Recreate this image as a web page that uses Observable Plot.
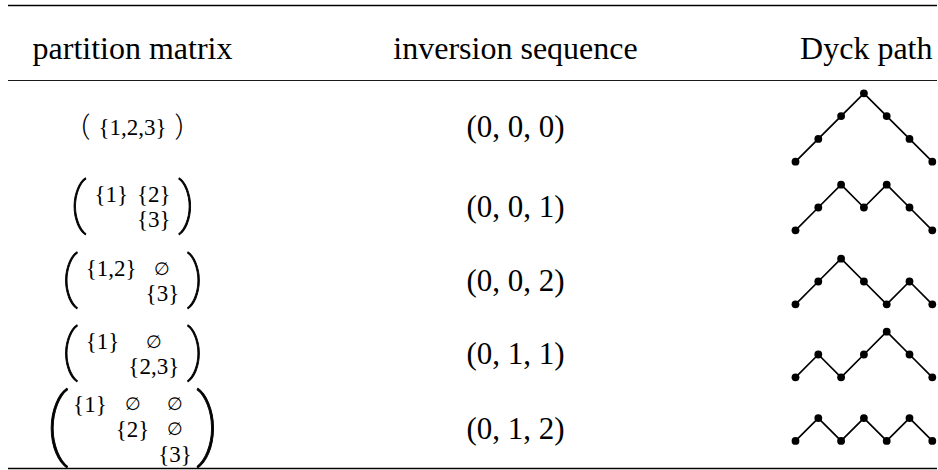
<!DOCTYPE html>
<html><head><meta charset="utf-8">
<script src="https://cdn.jsdelivr.net/npm/d3@7"></script>
<script src="https://cdn.jsdelivr.net/npm/@observablehq/plot@0.6"></script>
<style>body{margin:0;background:#fff}</style>
</head><body><div id="chart"></div>
<script>
// ---- data ----
const headers = ["partition matrix", "inversion sequence", "Dyck path"];
const matrices = [
  [["{1,2,3}"]],
  [["{1}", "{2}"], ["", "{3}"]],
  [["{1,2}", "∅"], ["", "{3}"]],
  [["{1}", "∅"], ["", "{2,3}"]],
  [["{1}", "∅", "∅"], ["", "{2}", "∅"], ["", "", "{3}"]]
];
const inversions = [[0,0,0],[0,0,1],[0,0,2],[0,1,1],[0,1,2]];
const dyckHeights = [
  [0,1,2,3,2,1,0],
  [0,1,2,1,2,1,0],
  [0,1,2,1,0,1,0],
  [0,1,0,1,2,1,0],
  [0,1,0,1,0,1,0]
];

// ---- layout ----
const W = 938, H = 470;
const FONT = "'Liberation Serif', 'DejaVu Serif', serif";
const PAREN_FONT = "Roboto, 'Liberation Sans', sans-serif";
const rowCenters = [127, 207, 281, 354, 429];
const colMatrix = 132, colInv = 515, dyckStart = 795, dyckRight = 932, step = 22.8;
const headerBaseline = 58, headerFS = 32, invFS = 31;
const cellFS = 23, emptyFS = 18, lineGap = 25, colGap = 9;

const ctx = document.createElement("canvas").getContext("2d");
function measure(s, fs) { ctx.font = `${fs}px ${FONT}`; return ctx.measureText(s).width; }

const headerY = headerBaseline - 0.32 * headerFS;
const headerMid = [
  {text: headers[0], x: colMatrix},
  {text: headers[1], x: colInv}
];
const headerEnd = [{text: headers[2], x: dyckRight}];

const cells = [], parens = [];
matrices.forEach((m, r) => {
  const n = m[0].length, nr = m.length;
  const fsOf = s => s === "∅" ? emptyFS : cellFS;
  const widths = d3.range(n).map(j => d3.max(m, row => row[j] ? measure(row[j], fsOf(row[j])) : 0));
  const total = d3.sum(widths) + (n - 1) * colGap;
  const left = colMatrix - total / 2;
  const centers = [];
  let acc = left;
  widths.forEach(w => { centers.push(acc + w / 2); acc += w + colGap; });
  m.forEach((row, i) => row.forEach((s, j) => {
    if (s) cells.push({text: s, x: centers[j], y: rowCenters[r] + (i - (nr - 1) / 2) * lineGap, fs: fsOf(s)});
  }));
  const pfs = [26, 56, 78][nr - 1], pad = nr === 1 ? 13 : 16;
  parens.push({text: "(", x: left - pad, y: rowCenters[r] - 0.06 * pfs, fs: pfs, big: nr > 1});
  parens.push({text: ")", x: left + total + pad, y: rowCenters[r] - 0.06 * pfs, fs: pfs, big: nr > 1});
});

const invData = inversions.map((s, r) => ({text: `(${s.join(", ")})`, x: colInv, y: rowCenters[r]}));

const dyck = dyckHeights.flatMap((hs, r) => {
  const base = rowCenters[r] + d3.max(hs) * step / 2;
  return hs.map((h, i) => ({row: r, x: dyckStart + i * step, y: base - h * step}));
});

const svg = Plot.plot({
  width: W, height: H,
  marginTop: 0, marginRight: 0, marginBottom: 0, marginLeft: 0,
  x: {domain: [0, W], range: [0, W], axis: null},
  y: {domain: [0, H], range: [0, H], axis: null},
  style: {background: "#fff", fontFamily: FONT},
  marks: [
    Plot.ruleY([5, 468], {x1: 8, x2: 937, stroke: "#000", strokeWidth: 1.3}),
    Plot.ruleY([80], {x1: 8, x2: 937, stroke: "#000", strokeWidth: 0.9}),
    Plot.text(headerMid, {x: "x", y: () => headerY, text: "text", textAnchor: "middle", fontSize: headerFS, fontFamily: FONT, fill: "#000", lineAnchor: "middle"}),
    Plot.text(headerEnd, {x: "x", y: () => headerY, text: "text", textAnchor: "end", fontSize: headerFS, fontFamily: FONT, fill: "#000", lineAnchor: "middle"}),
    Plot.text(cells, {x: "x", y: "y", text: "text", fontSize: "fs", fontFamily: FONT, fill: "#000", lineAnchor: "middle"}),
    Plot.text(invData, {x: "x", y: "y", text: "text", fontSize: invFS, fontFamily: FONT, fill: "#000", lineAnchor: "middle"}),
    Plot.line(dyck, {x: "x", y: "y", z: "row", stroke: "#000", strokeWidth: 1.7}),
    Plot.dot(dyck, {x: "x", y: "y", r: 3.9, fill: "#000"}),
    Plot.text(parens.filter(d => !d.big), {x: "x", y: "y", text: "text", fontSize: "fs", fontFamily: PAREN_FONT, fontWeight: 300, fill: "#000", lineAnchor: "middle"}),
    Plot.text(parens.filter(d => d.big), {x: "x", y: "y", text: "text", fontSize: "fs", fontFamily: PAREN_FONT, fontWeight: 100, fill: "#000", stroke: "#000", strokeWidth: 0.9, lineAnchor: "middle"})
  ]
});
document.getElementById("chart").appendChild(svg);
</script>
</body></html>
